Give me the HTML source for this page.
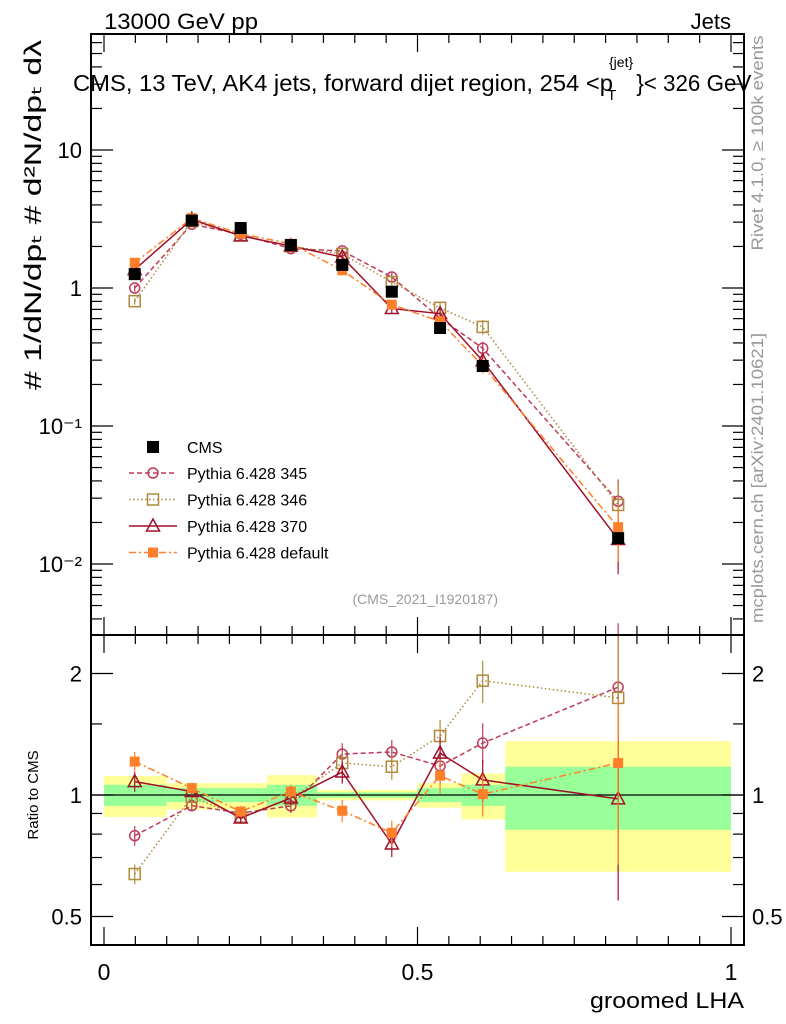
<!DOCTYPE html>
<html><head><meta charset="utf-8"><style>
body{margin:0;background:#fff;}
svg{display:block;font-family:"Liberation Sans",sans-serif;}
</style></head><body>
<svg id="c" width="786" height="1024" viewBox="0 0 786 1024"></svg>
<script>
const xs=[0.049,0.140,0.218,0.298,0.380,0.459,0.536,0.604,0.820];
const binEdges=[0,0.1,0.18,0.26,0.34,0.42,0.5,0.57,0.64,1.0];
const cms=[1.26,3.08,2.72,2.05,1.47,0.94,0.513,0.272,0.0154];
const r345=[0.793,0.941,0.902,0.94,1.263,1.278,1.18,1.345,1.85];
const r346=[0.637,0.99,0.884,0.98,1.2,1.175,1.4,1.92,1.74];
const r370=[1.079,1.02,0.877,0.983,1.14,0.756,1.27,1.09,0.978];
const rdef=[1.21,1.04,0.91,1.02,0.914,0.806,1.116,1.005,1.2];
const relErr=[0.07,0.04,0.04,0.05,0.08,0.09,0.12,0.15,0.55];
const yelHi=[1.115,1.07,1.07,1.12,1.03,1.03,1.07,1.13,1.36];
const yelLo=[0.882,0.92,0.92,0.88,0.97,0.97,0.93,0.87,0.645];
const grnHi=[1.06,1.04,1.04,1.06,1.015,1.015,1.04,1.06,1.175];
const grnLo=[0.94,0.96,0.96,0.94,0.985,0.985,0.96,0.94,0.82];
const mainTicks=[["10",1],["1",0],["10\u207B\u00B9",-1],["10\u207B\u00B2",-2]];
const ratioTicks=[["2",2],["1",1],["0.5",0.5]];

const svg=document.getElementById('c');const NS='http://www.w3.org/2000/svg';
function mk(t,a,p,name){const e=document.createElementNS(NS,t);for(const k in a)e.setAttribute(k,a[k]);


(p||svg).appendChild(e);return e;}
const L=91,R=744,T=34,MB=635,RB=945;
const X=v=>104+v*627;
const YM=v=>288-138*Math.log10(v);
const YR=v=>795-121.5*Math.log2(v);
const series=[
 {n:'Pythia 6.428 345',r:r345,c:'#c0395a',d:'5,3',m:'circle'},
 {n:'Pythia 6.428 346',r:r346,c:'#b08a3a',d:'1.5,2.5',m:'square'},
 {n:'Pythia 6.428 370',r:r370,c:'#a0102a',d:'',m:'triangle'},
 {n:'Pythia 6.428 default',r:rdef,c:'#ff7f2a',d:'7,3,2,3',m:'fsquare'}];
function marker(g,m,x,y,c){
 if(m==='circle')mk('circle',{cx:x,cy:y,r:5,fill:'none',stroke:c,'stroke-width':1.5},g,'marker');
 else if(m==='square')mk('rect',{x:x-5.5,y:y-5.5,width:11,height:11,fill:'none',stroke:c,'stroke-width':1.5},g,'marker');
 else if(m==='triangle')mk('polygon',{points:`${x},${y-7} ${x-6.5},${y+5} ${x+6.5},${y+5}`,fill:'none',stroke:c,'stroke-width':1.5},g,'marker');
 else if(m==='fsquare')mk('rect',{x:x-5,y:y-5,width:10,height:10,fill:c},g,'marker');
 else mk('rect',{x:x-6,y:y-6,width:12,height:12,fill:'#000'},g,'marker');
}
function txt(s,a,name){const e=mk('text',a,svg,name);e.textContent=s;return e;}
const bg=mk('g',{},svg,'ratio-bands');
for(let i=0;i<xs.length;i++){
 mk('rect',{x:X(binEdges[i]),y:YR(yelHi[i]),width:X(binEdges[i+1])-X(binEdges[i]),height:YR(yelLo[i])-YR(yelHi[i]),fill:'#ffff99'},bg,'yellow-band');
 mk('rect',{x:X(binEdges[i]),y:YR(grnHi[i]),width:X(binEdges[i+1])-X(binEdges[i]),height:YR(grnLo[i])-YR(grnHi[i]),fill:'#99ff99'},bg,'green-band');
}
mk('line',{x1:L,x2:R,y1:YR(1),y2:YR(1),stroke:'#000','stroke-width':1.3},svg,'ratio-unity-line');
series.forEach(s=>{
 const g=mk('g',{},svg,'series-'+s.n.split(' ').pop());
 const pm=xs.map((x,i)=>X(x)+','+YM(cms[i]*s.r[i])).join(' ');
 const pr=xs.map((x,i)=>X(x)+','+YR(s.r[i])).join(' ');
 const a={fill:'none',stroke:s.c,'stroke-width':1.5};if(s.d)a['stroke-dasharray']=s.d;
 mk('polyline',Object.assign({points:pm},a),g,'main-line');
 mk('polyline',Object.assign({points:pr},a),g,'ratio-line');
 xs.forEach((x,i)=>{
  const v=cms[i]*s.r[i],e=relErr[i]*0.8;
  mk('line',{x1:X(x),x2:X(x),y1:YM(v*(1+e)),y2:YM(Math.max(v*(1-e),1e-4)),stroke:s.c,'stroke-width':1.2},g,'error-bar');
  mk('line',{x1:X(x),x2:X(x),y1:YR(s.r[i]*(1+e)),y2:YR(s.r[i]*(1-e)),stroke:s.c,'stroke-width':1.2},g,'ratio-error-bar');
  marker(g,s.m,X(x),YM(v),s.c);marker(g,s.m,X(x),YR(s.r[i]),s.c);
 });
});
const cg=mk('g',{},svg,'series-cms');
xs.forEach((x,i)=>{mk('line',{x1:X(x),x2:X(x),y1:YM(cms[i]*1.04),y2:YM(cms[i]*0.96),stroke:'#000'},cg,'error-bar');marker(cg,'cms',X(x),YM(cms[i]),'#000');});
mk('rect',{x:L,y:T,width:R-L,height:MB-T,fill:'none',stroke:'#000','stroke-width':2},svg,'main-frame');
mk('rect',{x:L,y:MB,width:R-L,height:RB-MB,fill:'none',stroke:'#000','stroke-width':2},svg,'ratio-frame');
for(let k=0;k<=20;k++){const v=k*0.05,x=X(v);const len=(k%10===0)?18:9;
 [[T,1],[MB,-1],[MB,1],[RB,-1]].forEach(([y,d])=>mk('line',{x1:x,x2:x,y1:y,y2:y+d*len,stroke:'#000','stroke-width':1.2},svg,'x-tick'));}
[['0',0],['0.5',0.5],['1',1]].forEach(([s,v])=>txt(s,{x:X(v),y:980,'font-size':23,'text-anchor':'middle'},'x-tick-label'));
txt('groomed LHA',{x:744,y:1008,'font-size':22,'text-anchor':'end',textLength:154,lengthAdjust:'spacingAndGlyphs'},'x-axis-title');
for(let d=-3;d<=1;d++)for(let m=1;m<10;m++){const v=m*Math.pow(10,d),y=YM(v);if(y<T||y>MB)continue;const len=m===1?22:11;
 mk('line',{x1:L,x2:L+len,y1:y,y2:y,stroke:'#000','stroke-width':1.2},svg,'y-tick');mk('line',{x1:R,x2:R-len,y1:y,y2:y,stroke:'#000','stroke-width':1.2},svg,'y-tick');}
mainTicks.forEach(([s,v])=>txt(s,{x:82,y:YM(Math.pow(10,v))+8,'font-size':22,'text-anchor':'end'},'y-tick-label'));
[0.5,0.6,0.7,0.8,0.9,1,1.5,2].forEach(v=>{const y=YR(v),len=(v===0.5||v===1||v===2)?22:11;
 mk('line',{x1:L,x2:L+len,y1:y,y2:y,stroke:'#000','stroke-width':1.2},svg,'ratio-y-tick');mk('line',{x1:R,x2:R-len,y1:y,y2:y,stroke:'#000','stroke-width':1.2},svg,'ratio-y-tick');});
ratioTicks.forEach(([s,v])=>{txt(s,{x:82,y:YR(v)+8,'font-size':22,'text-anchor':'end'},'ratio-tick-label');txt(s,{x:752,y:YR(v)+8,'font-size':22},'ratio-tick-label-right');});
txt('Ratio to CMS',{x:0,y:0,'font-size':15,transform:'translate(38,795) rotate(-90)','text-anchor':'middle'},'ratio-y-title');
txt('13000 GeV pp',{x:104,y:29,'font-size':22,textLength:154,lengthAdjust:'spacingAndGlyphs'},'header-left');
txt('Jets',{x:731,y:29,'font-size':22,'text-anchor':'end'},'header-right');
const t=mk('text',{x:73,y:91,'font-size':23},svg,'plot-title');
t.innerHTML='<tspan textLength="540" lengthAdjust="spacingAndGlyphs">CMS, 13 TeV, AK4 jets, forward dijet region, 254 &lt;p</tspan><tspan font-size="14" dy="-24" dx="-4">{jet}</tspan><tspan font-size="15" dy="33" dx="-26">T</tspan><tspan dy="-9" dx="20" textLength="115" lengthAdjust="spacingAndGlyphs">}&lt; 326 GeV</tspan>';
txt('# 1/dN/dp\u209C  # d\u00B2N/dp\u209C d\u03BB',{x:0,y:0,'font-size':24,transform:'translate(41,215) rotate(-90)','text-anchor':'middle',textLength:350,lengthAdjust:'spacingAndGlyphs'},'y-axis-title');
txt('Rivet 4.1.0, \u2265 100k events',{x:0,y:0,'font-size':17,fill:'#999',transform:'translate(763,143) rotate(-90)','text-anchor':'middle',textLength:215,lengthAdjust:'spacingAndGlyphs'},'rivet-label');
txt('mcplots.cern.ch [arXiv:2401.10621]',{x:0,y:0,'font-size':17,fill:'#999',transform:'translate(763,478) rotate(-90)','text-anchor':'middle',textLength:290,lengthAdjust:'spacingAndGlyphs'},'mcplots-label');
txt('(CMS_2021_I1920187)',{x:498,y:604,'font-size':14,fill:'#999','text-anchor':'end'},'analysis-id');
const lg=mk('g',{},svg,'legend');
marker(lg,'cms',153,447,'#000');
txt('CMS',{x:187,y:453,'font-size':16},'legend-entry');
series.forEach((s,i)=>{const y=473+i*26.5;const a={x1:129,x2:177,y1:y,y2:y,stroke:s.c,'stroke-width':1.5};if(s.d)a['stroke-dasharray']=s.d;
 mk('line',a,lg,'legend-line');marker(lg,s.m,153,y,s.c);txt(s.n,{x:187,y:y+6,'font-size':16},'legend-entry');});
</script>
</body></html>
